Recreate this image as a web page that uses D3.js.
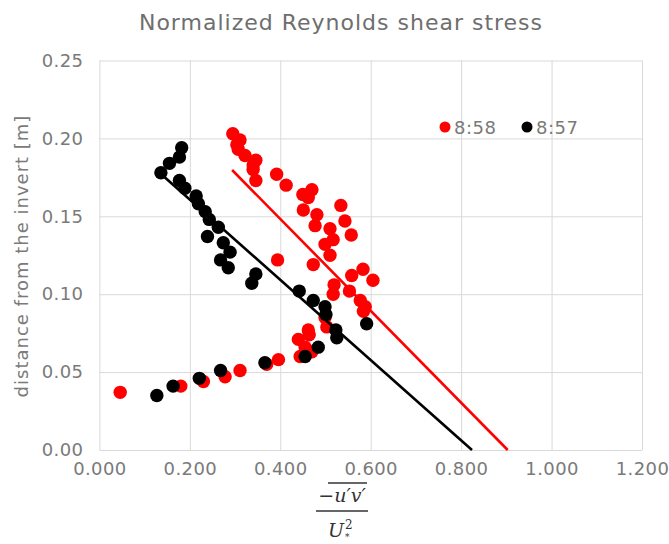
<!DOCTYPE html>
<html>
<head>
<meta charset="utf-8">
<script src="https://cdn.jsdelivr.net/npm/d3@7"></script>
<style>
  body { margin: 0; background: #fff; }
  text { font-family: "DejaVu Sans", sans-serif; }
</style>
</head>
<body>
<div id="chart"></div>
<script>
// 8:58 series (red) : [normalized shear stress, distance from invert]
var red58 = [
  [0.295, 0.203], [0.311, 0.199], [0.304, 0.196], [0.307, 0.193], [0.322, 0.189],
  [0.346, 0.186], [0.340, 0.183], [0.340, 0.180], [0.346, 0.173], [0.392, 0.177],
  [0.413, 0.170], [0.450, 0.164], [0.470, 0.167], [0.462, 0.162], [0.451, 0.154],
  [0.481, 0.151], [0.477, 0.144], [0.534, 0.157], [0.543, 0.147], [0.510, 0.142],
  [0.517, 0.135], [0.557, 0.138], [0.499, 0.132], [0.510, 0.125], [0.394, 0.122],
  [0.473, 0.119], [0.558, 0.112], [0.583, 0.116], [0.605, 0.109], [0.519, 0.106],
  [0.517, 0.100], [0.553, 0.102], [0.577, 0.096], [0.588, 0.092], [0.584, 0.089],
  [0.462, 0.077], [0.464, 0.074], [0.440, 0.071], [0.455, 0.066], [0.444, 0.060],
  [0.470, 0.063], [0.499, 0.085], [0.503, 0.079], [0.396, 0.058], [0.046, 0.037],
  [0.180, 0.041], [0.230, 0.044], [0.278, 0.047], [0.311, 0.051], [0.370, 0.055]
];
// 8:57 series (black)
var black57 = [
  [0.182, 0.194], [0.177, 0.188], [0.155, 0.184], [0.136, 0.178], [0.177, 0.173],
  [0.189, 0.168], [0.214, 0.163], [0.219, 0.158], [0.234, 0.153], [0.243, 0.148],
  [0.263, 0.143], [0.239, 0.137], [0.274, 0.133], [0.289, 0.127], [0.268, 0.122],
  [0.285, 0.117], [0.346, 0.113], [0.337, 0.107], [0.442, 0.102], [0.473, 0.096],
  [0.499, 0.092], [0.501, 0.087], [0.523, 0.077], [0.525, 0.072], [0.591, 0.081],
  [0.484, 0.066], [0.455, 0.060], [0.366, 0.056], [0.268, 0.051], [0.221, 0.046],
  [0.163, 0.041], [0.127, 0.035]
];
// linear trend lines (end points)
var trend58 = [[0.2935, 0.1797], [0.903, 0]];
var trend57 = [[0.1387, 0.1765], [0.824, 0]];

var xTicks = [0, 0.2, 0.4, 0.6, 0.8, 1.0, 1.2];
var yTicks = [0, 0.05, 0.10, 0.15, 0.20, 0.25];
var seriesNames = ["8:58", "8:57"];
var seriesColors = ["#ff0000", "#000000"];

var W = 669, H = 544;
var mLeft = 99.4, mRight = 642, mTop = 60.5, mBottom = 450;

svg = d3.select("#chart").append("svg")
  .attr("width", W)
  .attr("height", H);

var x = d3.scaleLinear().domain([0, 1.2]).range([mLeft, mRight]);
var y = d3.scaleLinear().domain([0, 0.25]).range([mBottom, mTop]);

// grid + ticks
var xAxis = svg.append("g")
  .attr("transform", "translate(0," + mBottom + ")")
  .call(d3.axisBottom(x).tickValues(xTicks).tickFormat(d3.format(".3f"))
    .tickSize(-(mBottom - mTop)).tickPadding(12));
var yAxis = svg.append("g")
  .attr("transform", "translate(" + mLeft + ",0)")
  .call(d3.axisLeft(y).tickValues(yTicks).tickFormat(d3.format(".2f"))
    .tickSize(-(mRight - mLeft)).tickPadding(16));

[xAxis, yAxis].forEach(function(a) {
  a.select(".domain").remove();
  a.selectAll(".tick line").attr("stroke", "#d9d9d9").attr("stroke-width", 1);
  a.selectAll(".tick text")
    .attr("fill", "#7a7a7a")
    .style("font-family", "DejaVu Sans")
    .style("font-size", "18px")
    .style("letter-spacing", "0.4px");
});

// scatter points
svg.append("g").selectAll("circle.r")
  .data(red58)
  .enter().append("circle")
  .attr("cx", function(d) { return x(d[0]); })
  .attr("cy", function(d) { return y(d[1]); })
  .attr("r", 6.7)
  .attr("fill", seriesColors[0]);

svg.append("g").selectAll("circle.b")
  .data(black57)
  .enter().append("circle")
  .attr("cx", function(d) { return x(d[0]); })
  .attr("cy", function(d) { return y(d[1]); })
  .attr("r", 6.7)
  .attr("fill", seriesColors[1]);

// trend lines
var line = d3.line().x(function(d) { return x(d[0]); }).y(function(d) { return y(d[1]); });
svg.append("path").datum(trend58).attr("d", line)
  .attr("stroke", seriesColors[0]).attr("stroke-width", 2.6).attr("fill", "none");
svg.append("path").datum(trend57).attr("d", line)
  .attr("stroke", seriesColors[1]).attr("stroke-width", 2.6).attr("fill", "none");

// title
svg.append("text")
  .attr("x", 341).attr("y", 30)
  .attr("text-anchor", "middle")
  .attr("fill", "#6e6e6e")
  .style("font-size", "22px")
  .style("letter-spacing", "1px")
  .text("Normalized Reynolds shear stress");

// y axis title
svg.append("text")
  .attr("transform", "translate(28,256) rotate(-90)")
  .attr("text-anchor", "middle")
  .attr("fill", "#7a7a7a")
  .style("font-size", "18px")
  .style("letter-spacing", "1px")
  .text("distance from the invert [m]");

// legend
var legX = [445, 527];
seriesNames.forEach(function(name, i) {
  svg.append("circle")
    .attr("cx", legX[i]).attr("cy", 127).attr("r", 5.5)
    .attr("fill", seriesColors[i]);
  svg.append("text")
    .attr("x", legX[i] + 9).attr("y", 133.5)
    .attr("fill", "#7a7a7a")
    .style("font-size", "18px")
    .style("letter-spacing", "0.5px")
    .text(name);
});

// x axis label (fraction)
var frac = svg.append("g").attr("transform", "translate(342,0)");
frac.append("text")
  .attr("x", 0).attr("y", 502)
  .attr("text-anchor", "middle")
  .attr("fill", "#333")
  .style("font-family", "DejaVu Serif")
  .style("font-style", "italic")
  .style("font-size", "19px")
  .text("\u2212u\u2032v\u2032");
frac.append("line")
  .attr("x1", -14).attr("x2", 25).attr("y1", 483).attr("y2", 483)
  .attr("stroke", "#333").attr("stroke-width", 1.3);
frac.append("line")
  .attr("x1", -26).attr("x2", 26).attr("y1", 511).attr("y2", 511)
  .attr("stroke", "#333").attr("stroke-width", 1.5);
frac.append("text")
  .attr("x", -6).attr("y", 537)
  .attr("text-anchor", "middle")
  .attr("fill", "#333")
  .style("font-family", "DejaVu Serif")
  .style("font-style", "italic")
  .style("font-size", "19px")
  .text("U");
frac.append("text")
  .attr("x", 3).attr("y", 529)
  .attr("fill", "#333")
  .style("font-family", "DejaVu Serif")
  .style("font-size", "12px")
  .text("2");
frac.append("text")
  .attr("x", 3).attr("y", 540)
  .attr("fill", "#333")
  .style("font-family", "DejaVu Serif")
  .style("font-size", "9px")
  .text("*");
</script>
</body>
</html>
